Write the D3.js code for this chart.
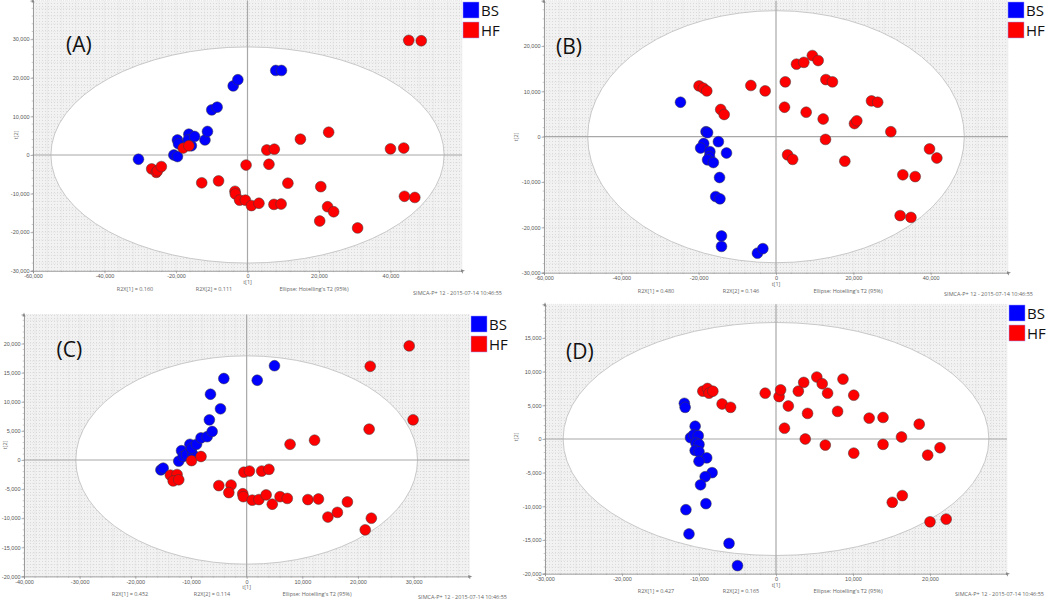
<!DOCTYPE html>
<html>
<head>
<meta charset="utf-8">
<script src="https://cdn.jsdelivr.net/npm/d3@7"></script>
<style>
  html, body { margin: 0; padding: 0; background: #fff; }
  svg { display: block; font-family: "Open Sans", "Noto Sans", sans-serif; }
  .tick-label { font-size: 5.5px; fill: #555; }
  .meta { font-size: 5.5px; fill: #666; }
  .panel-label { font-size: 21px; fill: #111; }
  .legend-label { font-size: 15px; fill: #111; }
</style>
</head>
<body>
<svg id="chart" width="1050" height="601"></svg>
<script>
const GROUPS = ["BS", "HF"];
const GROUP_COLORS = { BS: "#0000ff", HF: "#ff0000" };

// score values t[1], t[2] per panel and group
const A_BS = [[-30500,-1100],[-20600,0],[-19600,-400],[-19600,3900],[-19300,2900],[-16400,5400],[-16600,3900],[-15700,2400],[-14800,4800],[-11900,3900],[-11200,6100],[-10000,11700],[-8500,12400],[-4000,17900],[-2700,19500],[7900,21900],[9500,21900]];
const A_HF = [[-26800,-3600],[-25500,-4500],[-25200,-4100],[-24100,-3000],[-18000,1800],[-16400,2400],[-12800,-7200],[-8100,-6700],[-3500,-9400],[-3400,-10100],[-2200,-11700],[-600,-11700],[-400,-2600],[1100,-13100],[3200,-12500],[5400,1300],[6000,-2400],[7400,-12800],[7500,1500],[9400,-12700],[11300,-7300],[14800,4100],[20200,-17100],[20500,-8200],[22400,-13400],[22700,5900],[24100,-14700],[30800,-18900],[40000,1600],[43700,1800],[43900,-10700],[46800,-11000],[45100,29700],[48600,29600]];

const B_BS = [[-24700,7600],[-18100,1100],[-17700,900],[-14900,-1100],[-18700,-1500],[-19500,-2500],[-17100,-3300],[-17200,-4400],[-17700,-5100],[-16200,-5700],[-12800,-3600],[-14600,-9000],[-15600,-13200],[-14500,-13700],[-14100,-21900],[-14100,-24200],[-4800,-25700],[-3400,-24700]];
const B_HF = [[-19900,11200],[-18800,10700],[-17900,10100],[-14300,6000],[-13400,4900],[-6500,11300],[-2800,10100],[2400,12100],[2200,6500],[3000,-4000],[4300,-5000],[5300,16000],[7200,16400],[9400,17900],[10900,16800],[7800,5400],[12200,3900],[12800,-600],[12900,12600],[14600,12100],[17800,-5400],[20300,2900],[20900,3500],[24700,7900],[26300,7600],[29700,1100],[32100,-17400],[32800,-8400],[34900,-17800],[36000,-8800],[39700,-2700],[41600,-4700]];

const C_BS = [[-15400,-1700],[-15000,-1400],[-12200,-200],[-11700,1600],[-11400,600],[-10800,900],[-10200,2700],[-9700,1000],[-9900,2000],[-9000,2700],[-8200,3800],[-7100,4000],[-6200,4900],[-6700,6900],[-4700,8800],[-6500,11300],[-4100,14000],[1900,13700],[5000,16200]];
const C_HF = [[-13700,-2600],[-12500,-2500],[-13200,-3600],[-12200,-3400],[-9900,-100],[-8200,600],[-5000,-4400],[-2800,-4300],[-3200,-5600],[-700,-5800],[-600,-6300],[-500,-2100],[500,-1900],[1000,-6900],[2200,-6800],[2700,-1900],[4000,-1600],[3500,-6000],[4600,-7600],[6000,-6300],[7300,-6600],[7800,2700],[11000,-6800],[12200,3400],[12900,-6700],[14600,-9800],[16300,-9000],[18100,-7200],[21300,-12000],[22000,5300],[22400,-10000],[22200,16100],[29200,19600],[29900,6900]];

const D_BS = [[-11900,5300],[-11800,4700],[-10500,1900],[-11100,200],[-10700,600],[-10100,500],[-10400,-600],[-10000,-800],[-10500,-1700],[-10000,-1900],[-9000,-2800],[-10000,-3300],[-8300,-5000],[-9200,-5600],[-9800,-6800],[-9100,-9600],[-11700,-10500],[-11300,-14100],[-6100,-15500],[-5000,-18800]];
const D_HF = [[-9500,7100],[-8900,7500],[-8700,6800],[-8200,7100],[-7000,5200],[-5900,4700],[-1400,6800],[400,6300],[600,7300],[1100,1600],[1600,4900],[2900,7100],[3600,8400],[3800,0],[4100,3800],[5300,9200],[6000,8200],[6400,-900],[6700,6800],[8000,4100],[8700,8900],[10100,6500],[10100,-2100],[12100,3100],[13900,3200],[13900,-800],[15100,-9400],[16300,300],[16400,-8400],[18600,2200],[19700,-2400],[21300,-1300],[20000,-12300],[22100,-11900]];

// axis ticks
const A_XTICKS = [-60000, -40000, -20000, 0, 20000, 40000];
const A_YTICKS = [-30000, -20000, -10000, 0, 10000, 20000, 30000];
const B_XTICKS = [-60000, -40000, -20000, 0, 20000, 40000];
const B_YTICKS = [-30000, -20000, -10000, 0, 10000, 20000];
const C_XTICKS = [-40000, -30000, -20000, -10000, 0, 10000, 20000, 30000];
const C_YTICKS = [-20000, -15000, -10000, -5000, 0, 5000, 10000, 15000, 20000];
const D_XTICKS = [-30000, -20000, -10000, 0, 10000, 20000];
const D_YTICKS = [-20000, -15000, -10000, -5000, 0, 5000, 10000, 15000];

// Hotelling's T2 (95%) ellipse semi-axes
const A_ELLIPSE = [55000, 28000];
const B_ELLIPSE = [48700, 27800];
const C_ELLIPSE = [30700, 17900];
const D_ELLIPSE = [27650, 17300];

const A_R2X = ["R2X[1] = 0.160", "R2X[2] = 0.111"];
const B_R2X = ["R2X[1] = 0.480", "R2X[2] = 0.146"];
const C_R2X = ["R2X[1] = 0.452", "R2X[2] = 0.114"];
const D_R2X = ["R2X[1] = 0.427", "R2X[2] = 0.165"];

const CORNER_TEXT = "SIMCA-P+ 12 - 2015-07-14 10:46:55";

const PANELS = [
  { id: "A", bs: A_BS, hf: A_HF, xTicks: A_XTICKS, yTicks: A_YTICKS, ellipse: A_ELLIPSE, r2x: A_R2X,
    xDomain: [-60000, 60000], yDomain: [-30000, 40000],
    box: { left: 33, right: 462, top: 0.6, bottom: 270.8 },
    label: [66, 52], legend: [463, 2], t2: [18, 135], meta: [135, 214, 314, 291], corner: [502, 295] },
  { id: "B", bs: B_BS, hf: B_HF, xTicks: B_XTICKS, yTicks: B_YTICKS, ellipse: B_ELLIPSE, r2x: B_R2X,
    xDomain: [-60000, 60000], yDomain: [-30000, 30000],
    box: { left: 544, right: 1008, top: 0.7, bottom: 272.7 },
    label: [556, 54], legend: [1008, 2], t2: [518, 137], meta: [656, 741, 848, 293], corner: [1033, 296] },
  { id: "C", bs: C_BS, hf: C_HF, xTicks: C_XTICKS, yTicks: C_YTICKS, ellipse: C_ELLIPSE, r2x: C_R2X,
    xDomain: [-40000, 40000], yDomain: [-20000, 25000],
    box: { left: 24, right: 469.3, top: 314.5, bottom: 576.4 },
    label: [56.5, 357], legend: [471, 316], t2: [7, 445], meta: [130, 212, 317, 596], corner: [507, 599] },
  { id: "D", bs: D_BS, hf: D_HF, xTicks: D_XTICKS, yTicks: D_YTICKS, ellipse: D_ELLIPSE, r2x: D_R2X,
    xDomain: [-30000, 30000], yDomain: [-20000, 20000],
    box: { left: 545, right: 1007, top: 304.3, bottom: 573.7 },
    label: [566, 359], legend: [1009, 305], t2: [518, 437], meta: [656, 741, 848, 593], corner: [1044, 596] },
];

const fmt = (v) => d3.format(",")(v).replace("−", "-");

function drawPanel(svg, p) {
  const g = svg.append("g").attr("class", `panel-${p.id}`);
  const { left, right, top, bottom } = p.box;
  const x = d3.scaleLinear().domain(p.xDomain).range([left, right]);
  const y = d3.scaleLinear().domain(p.yDomain).range([bottom, top]);
  const xStep = p.xTicks[1] - p.xTicks[0];
  const yStep = p.yTicks[1] - p.yTicks[0];

  // plot background with fine grid
  g.append("rect")
    .attr("x", left).attr("y", top)
    .attr("width", right - left).attr("height", bottom - top)
    .attr("fill", "url(#speck)");

  const xMinor = d3.range(p.xDomain[0], p.xDomain[1] + 1, xStep / 5);
  const yMinor = d3.range(p.yDomain[0], p.yDomain[1] + 1, yStep / 5);
  g.selectAll(".gx").data(xMinor).join("line")
    .attr("x1", (d) => x(d)).attr("x2", (d) => x(d))
    .attr("y1", top).attr("y2", bottom)
    .attr("stroke", "#dddddd").attr("stroke-width", 0.6).attr("stroke-dasharray", "1,1");
  g.selectAll(".gy").data(yMinor).join("line")
    .attr("x1", left).attr("x2", right)
    .attr("y1", (d) => y(d)).attr("y2", (d) => y(d))
    .attr("stroke", "#dddddd").attr("stroke-width", 0.6).attr("stroke-dasharray", "1,1");

  // ellipse
  g.append("ellipse")
    .attr("cx", x(0)).attr("cy", y(0))
    .attr("rx", x(p.ellipse[0]) - x(0))
    .attr("ry", y(0) - y(p.ellipse[1]))
    .attr("fill", "#fff")
    .attr("stroke", "#c8c8c8").attr("stroke-width", 1);

  // zero lines
  g.append("line")
    .attr("x1", x(0)).attr("x2", x(0)).attr("y1", top).attr("y2", bottom)
    .attr("stroke", "#a8a8a8").attr("stroke-width", 1.2);
  g.append("line")
    .attr("x1", left).attr("x2", right).attr("y1", y(0)).attr("y2", y(0))
    .attr("stroke", "#a8a8a8").attr("stroke-width", 1.2);

  // axes
  const xAxis = d3.axisBottom(x).tickValues(p.xTicks).tickFormat(fmt).tickSize(2.5).tickPadding(1);
  const yAxis = d3.axisLeft(y).tickValues(p.yTicks).tickFormat(fmt).tickSize(2.5).tickPadding(1);
  const gx = g.append("g").attr("transform", `translate(0,${bottom})`).call(xAxis);
  const gy = g.append("g").attr("transform", `translate(${left},0)`).call(yAxis);
  [gx, gy].forEach((ax) => {
    ax.select(".domain").attr("stroke", "#888").attr("stroke-width", 0.8);
    ax.selectAll(".tick line").attr("stroke", "#888").attr("stroke-width", 0.6);
    ax.selectAll(".tick text").attr("class", "tick-label").attr("font-size", null).attr("font-family", null);
  });

  // minor ticks
  g.selectAll(".mx").data(xMinor).join("line")
    .attr("x1", (d) => x(d)).attr("x2", (d) => x(d))
    .attr("y1", bottom).attr("y2", bottom + 1.3)
    .attr("stroke", "#999").attr("stroke-width", 0.5);
  g.selectAll(".my").data(yMinor).join("line")
    .attr("x1", left - 1.3).attr("x2", left)
    .attr("y1", (d) => y(d)).attr("y2", (d) => y(d))
    .attr("stroke", "#999").attr("stroke-width", 0.5);

  // axis arrows
  g.append("path")
    .attr("d", `M${right + 3},${bottom} l-4,-1.5 l0,3 z`)
    .attr("fill", "#888");
  g.append("path")
    .attr("d", `M${left},${top - 2} l-1.5,4 l3,0 z`)
    .attr("fill", "#888");

  // points
  [["BS", p.bs], ["HF", p.hf]].forEach(([grp, pts]) => {
    g.selectAll(`.pt-${grp}`).data(pts).join("circle")
      .attr("cx", (d) => x(d[0])).attr("cy", (d) => y(d[1]))
      .attr("r", 5.4)
      .attr("fill", GROUP_COLORS[grp])
      .attr("stroke", "#3a3a3a").attr("stroke-width", 0.5);
  });

  // panel label
  g.append("text").attr("class", "panel-label")
    .attr("x", p.label[0]).attr("y", p.label[1]).text(`(${p.id})`);

  // legend
  GROUPS.forEach((grp, i) => {
    const ly = p.legend[1] + i * 20;
    g.append("rect")
      .attr("x", p.legend[0]).attr("y", ly)
      .attr("width", 16).attr("height", 16)
      .attr("fill", GROUP_COLORS[grp])
      .attr("stroke", "#9a9aff").attr("stroke-width", 0.5);
    g.append("text").attr("class", "legend-label")
      .attr("x", p.legend[0] + 18).attr("y", ly + 14).text(grp);
  });

  // axis titles and model meta
  g.append("text").attr("class", "meta")
    .attr("x", x(0)).attr("y", bottom + 13)
    .attr("text-anchor", "middle").text("t[1]");
  g.append("text").attr("class", "meta")
    .attr("transform", `translate(${p.t2[0]},${p.t2[1]}) rotate(-90)`)
    .attr("text-anchor", "middle").text("t[2]");
  g.append("text").attr("class", "meta")
    .attr("x", p.meta[0]).attr("y", p.meta[3]).attr("text-anchor", "middle").text(p.r2x[0]);
  g.append("text").attr("class", "meta")
    .attr("x", p.meta[1]).attr("y", p.meta[3]).attr("text-anchor", "middle").text(p.r2x[1]);
  g.append("text").attr("class", "meta")
    .attr("x", p.meta[2]).attr("y", p.meta[3]).attr("text-anchor", "middle").text("Ellipse: Hotelling's T2 (95%)");
  g.append("text").attr("class", "meta")
    .attr("x", p.corner[0]).attr("y", p.corner[1])
    .attr("text-anchor", "end").attr("font-size", "4.3px")
    .text(CORNER_TEXT);
}

function drawChart() {
  const svg = d3.select("#chart");
  const defs = svg.append("defs");
  const pat = defs.append("pattern")
    .attr("id", "speck").attr("width", 3).attr("height", 3)
    .attr("patternUnits", "userSpaceOnUse");
  pat.append("rect").attr("width", 3).attr("height", 3).attr("fill", "#f2f2f2");
  pat.append("rect").attr("width", 1).attr("height", 1).attr("fill", "#d9d9d9");

  PANELS.forEach((p) => drawPanel(svg, p));
}

drawChart();
</script>
</body>
</html>
